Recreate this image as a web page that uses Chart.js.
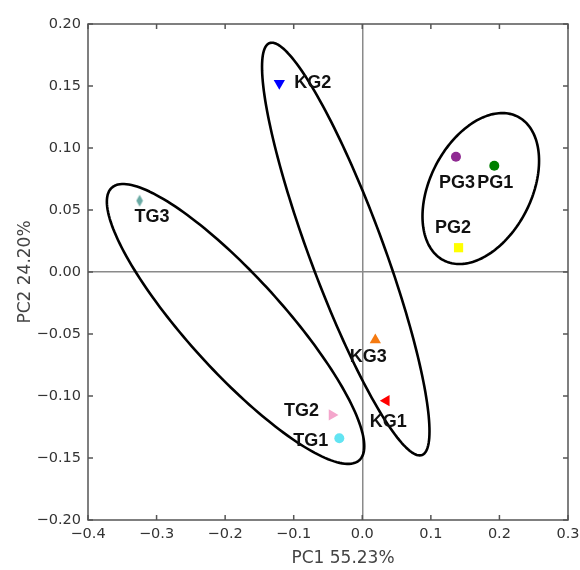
<!DOCTYPE html>
<html>
<head>
<meta charset="utf-8">
<script src="https://cdn.jsdelivr.net/npm/chart.js@4/dist/chart.umd.min.js"></script>
<style>
  html, body { margin: 0; padding: 0; background: #fff; }
  #wrap { width: 580px; height: 570px; position: relative; }
</style>
</head>
<body>
<div id="wrap"><canvas id="c" width="580" height="570"></canvas></div>
<script>
// ---- data ----
const sampleNames = ['KG1', 'KG2', 'KG3', 'PG1', 'PG2', 'PG3', 'TG1', 'TG2', 'TG3'];
const pc1Values = [0.035, -0.121, 0.019, 0.1925, 0.1404, 0.1366, -0.0335, -0.0442, -0.3248];
const pc2Values = [-0.1038, 0.1522, -0.0548, 0.0857, 0.0196, 0.0930, -0.1341, -0.1153, 0.0575];

const xTickValues = [-0.4, -0.3, -0.2, -0.1, 0.0, 0.1, 0.2, 0.3];
const yTickValues = [-0.20, -0.15, -0.10, -0.05, 0.00, 0.05, 0.10, 0.15, 0.20];
const xAxisTitle = 'PC1 55.23%';
const yAxisTitle = 'PC2 24.20%';

// confidence ellipses (data units): centre and two conjugate semi-axis vectors
const ellipseGroups = ['TG', 'KG', 'PG'];
const ellipseCenterX = [-0.1848, -0.0241, 0.1728];
const ellipseCenterY = [-0.0419, 0.0185, 0.0673];
const ellipseAxisAX = [0.1877, 0.1221, 0.0850];
const ellipseAxisAY = [-0.0986, -0.1469, 0.0224];
const ellipseAxisBX = [0, 0, 0];
const ellipseAxisBY = [0.0549, 0.0782, 0.0566];

// ---- styles ----
function thinDiamond(color) {
  const c = document.createElement('canvas');
  c.width = 8; c.height = 13;
  const g = c.getContext('2d');
  g.fillStyle = color;
  g.beginPath();
  g.moveTo(4, 0.5); g.lineTo(7.3, 6.5); g.lineTo(4, 12.5); g.lineTo(0.7, 6.5);
  g.closePath(); g.fill();
  return c;
}
const markerStyle = {
  KG1: { style: 'triangle', rot: 270, color: '#ff0000', r: 6.5 },
  KG2: { style: 'triangle', rot: 180, color: '#0000ff', r: 6.5 },
  KG3: { style: 'triangle', rot: 0, color: '#f57a10', r: 6.5 },
  PG1: { style: 'circle', rot: 0, color: '#008000', r: 5 },
  PG2: { style: 'rect', rot: 0, color: '#ffff00', r: 6.5 },
  PG3: { style: 'circle', rot: 0, color: '#8f2a92', r: 5 },
  TG1: { style: 'circle', rot: 0, color: '#62e4f2', r: 5 },
  TG2: { style: 'triangle', rot: 90, color: '#f4a6cc', r: 6.5 },
  TG3: { style: thinDiamond('#6aaaa4'), rot: 0, color: '#6aaaa4', r: 6 }
};
// label placement relative to marker (pixels)
const labelPlacement = {
  KG1: { dx: 2, dy: 21, align: 'center' },
  KG2: { dx: 15, dy: 0, align: 'left' },
  KG3: { dx: -7, dy: 17, align: 'center' },
  PG1: { dx: 1, dy: 17, align: 'center' },
  PG2: { dx: -5.5, dy: -20, align: 'center' },
  PG3: { dx: 1, dy: 26, align: 'center' },
  TG1: { dx: -11, dy: 2.5, align: 'right' },
  TG2: { dx: -13, dy: -4, align: 'right' },
  TG3: { dx: 12.5, dy: 16, align: 'center' }
};

const points = sampleNames.map((n, i) => ({ x: pc1Values[i], y: pc2Values[i] }));

function fmtTick(v, d) {
  const s = Math.abs(v).toFixed(d);
  return (v < -1e-9 ? '\u2212' : '') + s;
}

const ellipsePlugin = {
  id: 'ellipses',
  beforeDatasetsDraw(chart) {
    const { ctx, scales: { x, y } } = chart;
    ctx.save();
    ctx.strokeStyle = '#000';
    ctx.lineWidth = 2.6;
    ctx.lineJoin = 'round';
    ellipseGroups.forEach((g, k) => {
      ctx.beginPath();
      const N = 180;
      for (let i = 0; i <= N; i++) {
        const t = (i / N) * Math.PI * 2;
        const vx = ellipseCenterX[k] + ellipseAxisAX[k] * Math.cos(t) + ellipseAxisBX[k] * Math.sin(t);
        const vy = ellipseCenterY[k] + ellipseAxisAY[k] * Math.cos(t) + ellipseAxisBY[k] * Math.sin(t);
        const px = x.getPixelForValue(vx), py = y.getPixelForValue(vy);
        if (i === 0) ctx.moveTo(px, py); else ctx.lineTo(px, py);
      }
      ctx.closePath();
      ctx.stroke();
    });
    ctx.restore();
  },
  afterDatasetsDraw(chart) {
    const { ctx, scales: { x, y } } = chart;
    ctx.save();
    ctx.font = 'bold 18px "Liberation Sans", Arial, sans-serif';
    ctx.fillStyle = '#111';
    ctx.textBaseline = 'middle';
    sampleNames.forEach((n, i) => {
      const p = labelPlacement[n];
      ctx.textAlign = p.align;
      ctx.fillText(n, x.getPixelForValue(pc1Values[i]) + p.dx, y.getPixelForValue(pc2Values[i]) + p.dy);
    });
    ctx.restore();
  },
  afterDraw(chart) {
    const { ctx, chartArea: a, scales: { x, y } } = chart;
    ctx.save();
    ctx.strokeStyle = '#555';
    ctx.lineWidth = 1.5;
    ctx.strokeRect(a.left, a.top, a.right - a.left, a.bottom - a.top);
    const L = 5;
    ctx.beginPath();
    xTickValues.forEach(v => {
      const px = x.getPixelForValue(v);
      ctx.moveTo(px, a.bottom); ctx.lineTo(px, a.bottom - L);
      ctx.moveTo(px, a.top); ctx.lineTo(px, a.top + L);
    });
    yTickValues.forEach(v => {
      const py = y.getPixelForValue(v);
      ctx.moveTo(a.left, py); ctx.lineTo(a.left + L, py);
      ctx.moveTo(a.right, py); ctx.lineTo(a.right - L, py);
    });
    ctx.stroke();
    // x-axis title (slightly right of centre, as in the reference)
    ctx.fillStyle = '#444';
    ctx.font = '17px "DejaVu Sans", sans-serif';
    ctx.textAlign = 'center';
    ctx.textBaseline = 'middle';
    ctx.fillText(xAxisTitle, (a.left + a.right) / 2 + 15, 559);
    ctx.restore();
  }
};

new Chart(document.getElementById('c'), {
  type: 'scatter',
  data: {
    datasets: [{
      data: points,
      pointStyle: sampleNames.map(n => markerStyle[n].style),
      pointRotation: sampleNames.map(n => markerStyle[n].rot),
      pointRadius: sampleNames.map(n => markerStyle[n].r),
      pointBackgroundColor: sampleNames.map(n => markerStyle[n].color),
      pointBorderColor: sampleNames.map(n => markerStyle[n].color),
      pointBorderWidth: 0
    }]
  },
  options: {
    responsive: false,
    animation: false,
    events: [],
    layout: { padding: { top: 24, right: 12, left: 0, bottom: 0 } },
    plugins: { legend: { display: false }, tooltip: { enabled: false } },
    scales: {
      x: {
        type: 'linear', min: -0.4, max: 0.3,
        afterBuildTicks: s => { s.ticks = xTickValues.map(v => ({ value: v })); },
        afterFit: s => { s.height = 50; s.paddingRight = 0; s.paddingLeft = 0; },
        ticks: {
          callback: v => fmtTick(v, 1),
          font: { family: '"DejaVu Sans", sans-serif', size: 14.5 },
          color: '#333', padding: 6, maxRotation: 0
        },
        grid: {
          drawTicks: false,
          color: c => (c.tick && Math.abs(c.tick.value) < 1e-9) ? '#8a8a8a' : 'rgba(0,0,0,0)',
          lineWidth: 1.5
        },
        border: { display: false },
        title: { display: false }
      },
      y: {
        type: 'linear', min: -0.2, max: 0.2,
        afterBuildTicks: s => { s.ticks = yTickValues.map(v => ({ value: v })); },
        afterFit: s => { s.width = 88; s.paddingTop = 0; s.paddingBottom = 0; },
        ticks: {
          callback: v => fmtTick(v, 2),
          font: { family: '"DejaVu Sans", sans-serif', size: 14.5 },
          color: '#333', padding: 7
        },
        grid: {
          drawTicks: false,
          color: c => (c.tick && Math.abs(c.tick.value) < 1e-9) ? '#8a8a8a' : 'rgba(0,0,0,0)',
          lineWidth: 1.5
        },
        border: { display: false },
        title: {
          display: true, text: yAxisTitle,
          font: { family: '"DejaVu Sans", sans-serif', size: 17 },
          color: '#444', padding: { top: 15, bottom: 0 }
        }
      }
    }
  },
  plugins: [ellipsePlugin]
});
</script>
</body>
</html>
